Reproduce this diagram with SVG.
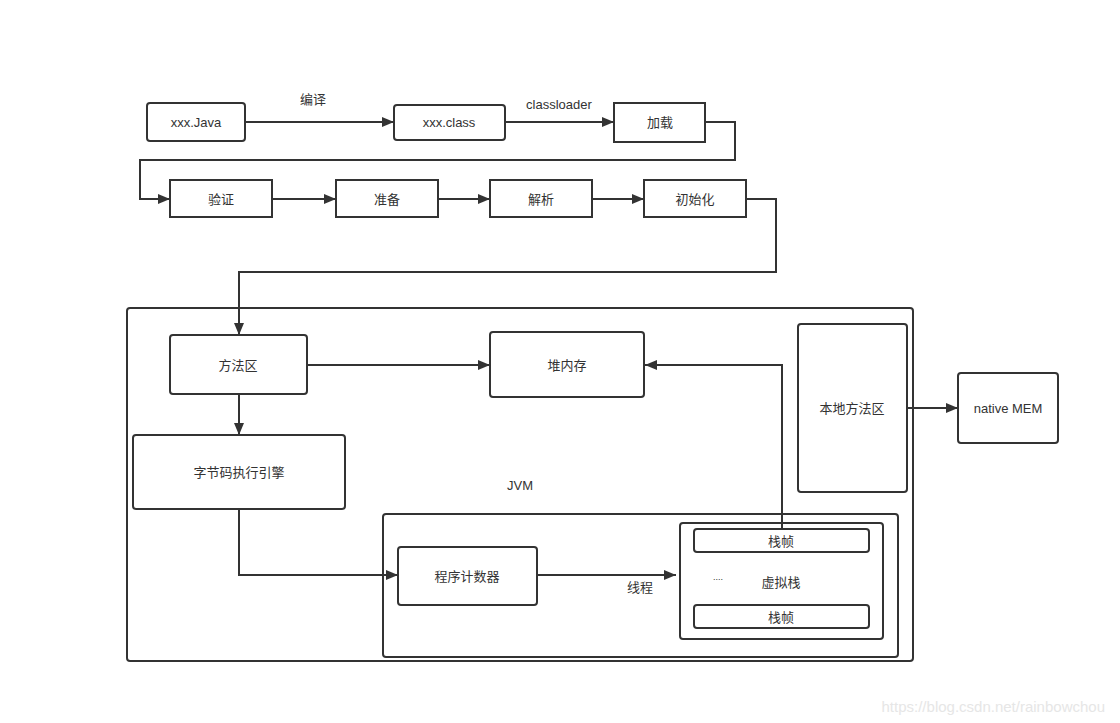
<svg xmlns="http://www.w3.org/2000/svg" width="1120" height="723" viewBox="0 0 1120 723">
<defs>
<marker id="arr" markerWidth="12" markerHeight="10" refX="12" refY="5" orient="auto" markerUnits="userSpaceOnUse" viewBox="0 0 12 10">
<path d="M0,0 L12,5 L0,10 Z" fill="#333"/>
</marker>
<style>
.n{fill:#fff;stroke:#333;stroke-width:2}
.c{fill:none;stroke:#333;stroke-width:2;marker-end:url(#arr)}
text{font-family:"Liberation Sans","Noto Sans CJK SC",sans-serif;font-size:13px;fill:#333;text-anchor:middle;dominant-baseline:central}
</style>
</defs>
<rect width="1120" height="723" fill="#fff"/>
<g id="jvm">
<rect class="n" x="127" y="308" width="786" height="353" rx="3"/>
<text x="520" y="485">JVM</text>
</g>
<g id="thread">
<rect class="n" x="383" y="514" width="515" height="143" rx="3"/>
</g>
<g id="java"><rect class="n" x="147" y="103" width="98" height="38" rx="3"/><text x="196" y="122">xxx.Java</text></g>
<g id="class"><rect class="n" x="394" y="105" width="111" height="35" rx="3"/><text x="449" y="122">xxx.class</text></g>
<g id="load"><rect class="n" x="614" y="103" width="91" height="39"/><text x="660" y="122">加载</text></g>
<g id="verify"><rect class="n" x="170" y="180" width="102" height="37"/><text x="221" y="199">验证</text></g>
<g id="prepare"><rect class="n" x="336" y="180" width="102" height="37"/><text x="387" y="199">准备</text></g>
<g id="resolve"><rect class="n" x="490" y="180" width="102" height="37"/><text x="541" y="199">解析</text></g>
<g id="init"><rect class="n" x="644" y="180" width="102" height="37"/><text x="695" y="199">初始化</text></g>
<g id="method"><rect class="n" x="170" y="335" width="137" height="59" rx="3"/><text x="238" y="365">方法区</text></g>
<g id="heap"><rect class="n" x="490" y="332" width="154" height="65" rx="3"/><text x="567" y="365">堆内存</text></g>
<g id="engine"><rect class="n" x="133" y="435" width="212" height="74" rx="3"/><text x="239" y="472">字节码执行引擎</text></g>
<g id="pc"><rect class="n" x="398" y="547" width="139" height="58" rx="3"/><text x="467" y="576">程序计数器</text></g>
<g id="vstack">
<rect class="n" x="680" y="523" width="203" height="116" rx="3"/>
<text x="718" y="577" style="font-size:9px">....</text>
<text x="781" y="582">虚拟栈</text>
</g>
<g id="frame1"><rect class="n" x="694" y="529" width="175" height="23" rx="3"/><text x="781" y="541">栈帧</text></g>
<g id="frame2"><rect class="n" x="694" y="605" width="175" height="23" rx="3"/><text x="781" y="617">栈帧</text></g>
<g id="native"><rect class="n" x="798" y="324" width="109" height="168" rx="3"/><text x="852" y="408">本地方法区</text></g>
<g id="mem"><rect class="n" x="958" y="373" width="100" height="70" rx="3"/><text x="1008" y="408">native MEM</text></g>
<g id="connectors">
<path class="c" d="M245,122 H394"/>
<text x="313" y="99">编译</text>
<path class="c" d="M505,122 H614"/>
<text x="559" y="104">classloader</text>
<path class="c" d="M705,122 H735 V160 H140 V199 H170"/>
<path class="c" d="M272,199 H336"/>
<path class="c" d="M438,199 H490"/>
<path class="c" d="M592,199 H644"/>
<path class="c" d="M746,199 H776 V272 H239 V335"/>
<path class="c" d="M307,365 H490"/>
<path class="c" d="M239,394 V435"/>
<path class="c" d="M239,509 V575 H398"/>
<path class="c" d="M537,575 H676"/>
<text x="640" y="587">线程</text>
<path class="c" d="M782,529 V365 H645"/>
<path class="c" d="M907,408 H958"/>
</g>
<text x="1105" y="706" style="font-size:15px;fill:#e6e6e6;text-anchor:end">https://blog.csdn.net/rainbowchou</text>
</svg>
